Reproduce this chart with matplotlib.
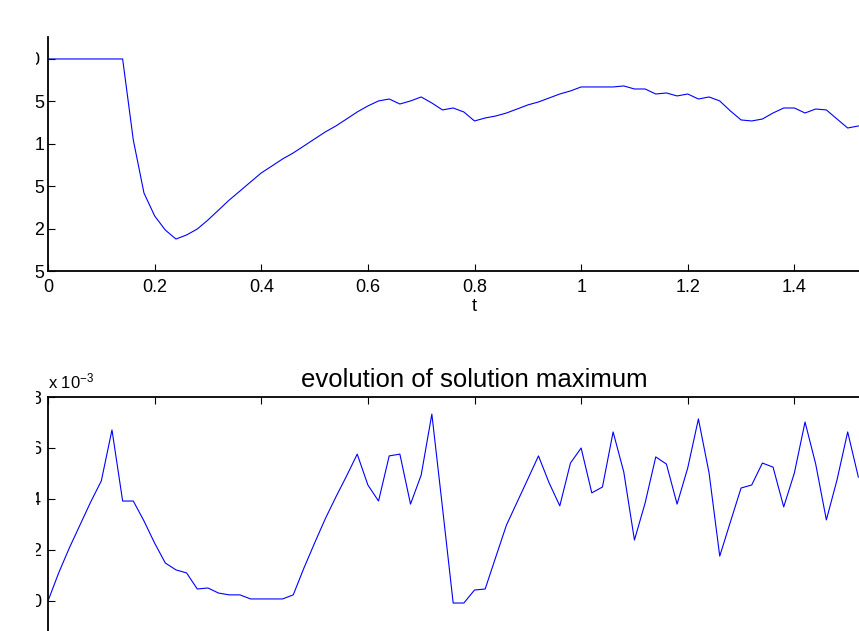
import numpy as np
import matplotlib
matplotlib.use("Agg")
import matplotlib.pyplot as plt
from matplotlib.patches import Rectangle

plt.rcParams['font.family'] = ['Liberation Sans', 'DejaVu Sans']
plt.rcParams['mathtext.fontset'] = 'custom'
plt.rcParams['mathtext.rm'] = 'Liberation Sans'
plt.rcParams['mathtext.it'] = 'Liberation Sans:italic'

# time samples (step 0.02)
t = np.round(np.arange(0, 1.5201, 0.02), 2)

# top panel values
top_vals = [0, 0, 0, 0, 0, 0, 0, 0,
            -0.0955, -0.1580, -0.1850, -0.2017, -0.2123, -0.2075, -0.2005, -0.1899, -0.1781, -0.1663,
            -0.1557, -0.1450, -0.1344, -0.1262, -0.1179, -0.1108, -0.1026,
            -0.0943, -0.0861, -0.0790, -0.0708, -0.0625, -0.0554, -0.0495, -0.0472, -0.0531, -0.0495,
            -0.0448, -0.0519, -0.0601, -0.0578, -0.0625, -0.0731, -0.0696, -0.0672, -0.0637, -0.0590,
            -0.0542, -0.0507, -0.0460, -0.0413, -0.0377, -0.0330, -0.0330, -0.0330, -0.0330, -0.0318,
            -0.0354, -0.0354, -0.0413, -0.0401, -0.0436, -0.0413, -0.0472, -0.0448, -0.0495, -0.0613,
            -0.0719, -0.0731, -0.0708, -0.0637, -0.0578, -0.0578, -0.0637, -0.0590, -0.0601, -0.0708,
            -0.0814, -0.0790]
top_yticks = [-0.25, -0.2, -0.15, -0.1, -0.05, 0]
top_yticklabels = ['-0.25', '-0.2', '-0.15', '-0.1', '-0.05', '0 ']

# bottom panel values (x 10^-3)
max_vals = [0.0, 1.10, 2.08, 2.98, 3.88, 4.71, 6.71, 3.92, 3.92, 3.14,
            2.27, 1.49, 1.22, 1.10, 0.47, 0.51, 0.31, 0.24, 0.24, 0.08,
            0.08, 0.08, 0.08, 0.24, 1.29, 2.27, 3.22, 4.08, 4.90, 5.76,
            4.55, 3.92, 5.69, 5.76, 3.80, 4.94, 7.33, 3.65, -0.08, -0.08,
            0.43, 0.47, 1.73, 2.98, 3.88, 4.78, 5.69, 4.63, 3.73, 5.41,
            6.00, 4.24, 4.47, 6.63, 5.06, 2.39, 3.84, 5.65, 5.37, 3.80,
            5.22, 7.14, 5.02, 1.76, 3.10, 4.43, 4.55, 5.41, 5.25, 3.69,
            5.02, 7.02, 5.37, 3.18, 4.75, 6.63, 4.86]
max_yticks = [0, 2, 4, 6, 8]
xticks = [0, 0.2, 0.4, 0.6, 0.8, 1, 1.2, 1.4]
xticklabels = ['0', '0.2', '0.4', '0.6', '0.8', '1', '1.2', '1.4']

W, H = 859, 631
fig = plt.figure(figsize=(8.59, 6.31), dpi=100)

# top axes
ax1 = fig.add_axes([48 / W, (H - 271) / H, 853 / W, 234 / H])
ax1.plot(t, top_vals, color='blue', lw=0.8)
ax1.set_xlim(0, 1.6)
ax1.set_ylim(-0.25, 0.0259)
ax1.set_xticks(xticks)
ax1.set_xticklabels(xticklabels)
ax1.set_yticks(top_yticks)
ax1.set_yticklabels(top_yticklabels)
ax1.set_xlabel('t', fontsize=13, labelpad=1)
ax1.spines['top'].set_visible(False)
ax1.spines['right'].set_visible(False)
ax1.tick_params(direction='in', length=5, width=0.8, labelsize=13)
ax1.tick_params(axis='x', pad=6)
ax1.tick_params(axis='y', pad=2)

# bottom axes
ax2 = fig.add_axes([48 / W, -9 / H, 853 / W, 243 / H])
ax2.plot(t, max_vals, color='blue', lw=0.8)
ax2.set_xlim(0, 1.6)
ax2.set_ylim(-1.53, 8)
ax2.set_xticks(xticks)
ax2.set_yticks(max_yticks)
ax2.tick_params(direction='in', length=5, width=0.8, labelsize=13,
                top=True, labeltop=False, bottom=False, labelbottom=False)
ax2.tick_params(axis='y', pad=5)
ax2.set_title('evolution of solution maximum', fontsize=18.5, pad=7)

for ax in (ax1, ax2):
    for s in ax.spines.values():
        s.set_linewidth(1.3)

fig.text(48 / W, (H - 388) / H, 'x 10$^{-3}$', fontsize=12, ha='left', va='baseline')

# left part of the picture is blank
fig.add_artist(Rectangle((0, 0), 36 / W, 1, transform=fig.transFigure,
                         facecolor='white', edgecolor='none', zorder=10))

fig.savefig('out.png', dpi=100)
